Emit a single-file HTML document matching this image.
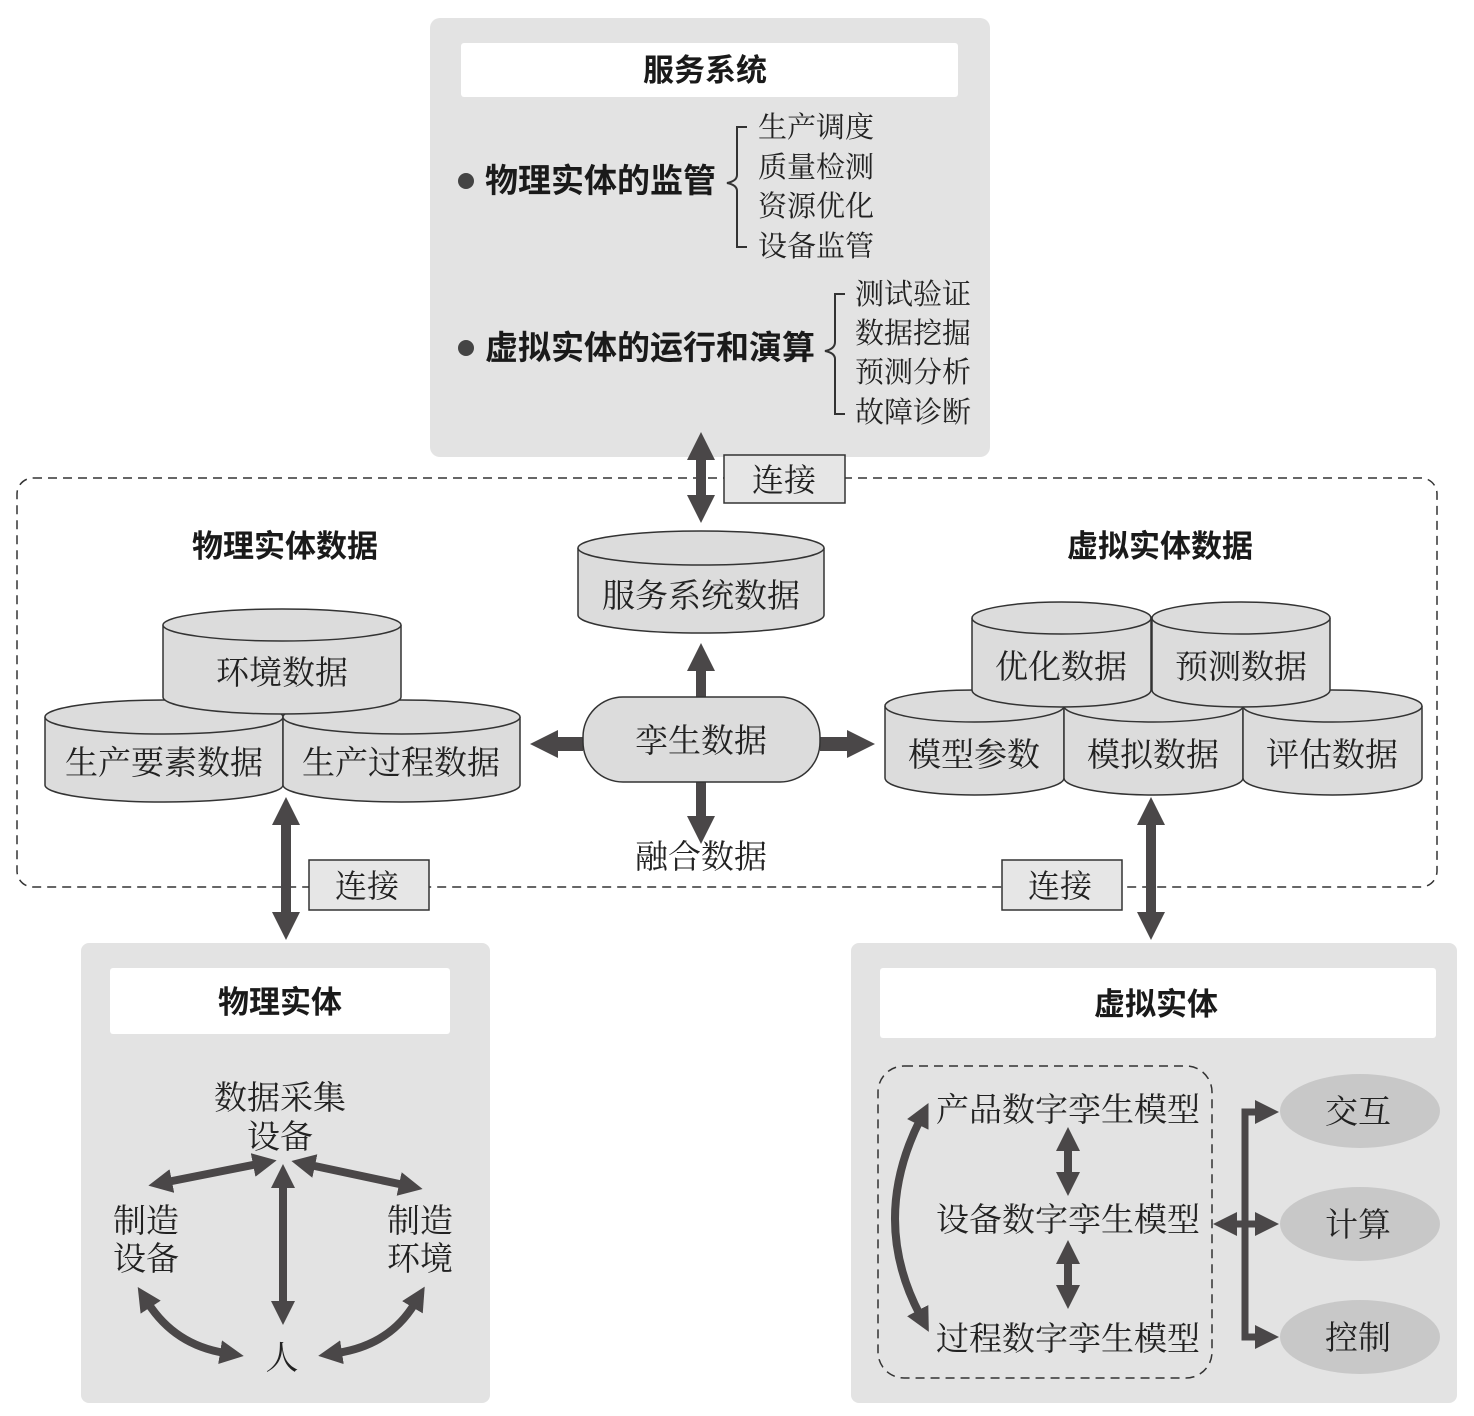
<!DOCTYPE html>
<html><head><meta charset="utf-8"><style>
html,body{margin:0;padding:0;background:#fff}
svg{display:block}
.s{font-family:"Liberation Serif","Noto Serif CJK SC",serif;fill:#222}
.b{font-family:"Liberation Sans","Noto Sans CJK SC",sans-serif;font-weight:bold;fill:#1a1a1a}
</style></head><body>
<svg width="1474" height="1416" viewBox="0 0 1474 1416" xmlns="http://www.w3.org/2000/svg">
<defs>
<marker id="ah" markerUnits="userSpaceOnUse" markerWidth="28" markerHeight="28" refX="6" refY="14" orient="auto-start-reverse">
<path d="M0,0 L28,14 L0,28 z" fill="#4a4748"/>
</marker>
<marker id="as" markerUnits="userSpaceOnUse" markerWidth="24" markerHeight="24" refX="5" refY="12" orient="auto-start-reverse">
<path d="M0,0 L24,12 L0,24 z" fill="#4a4748"/>
</marker>
</defs>

<rect x="430" y="18" width="560" height="439" rx="10" fill="#e3e3e3"/>
<rect x="461" y="43" width="497" height="54" rx="3" fill="#fff"/>
<text x="705" y="81" class="b" font-size="31" text-anchor="middle">服务系统</text>
<circle cx="466" cy="181" r="8" fill="#444"/>
<text x="485" y="192" class="b" font-size="33">物理实体的监管</text>
<path d="M747,127 H737 V175 Q737,181 727,183 Q737,185 737,191 V247 H747" fill="none" stroke="#333" stroke-width="2"/>
<g class="s" font-size="29">
<text x="758" y="137">生产调度</text>
<text x="758" y="177">质量检测</text>
<text x="758" y="216">资源优化</text>
<text x="758" y="256">设备监管</text>
</g>
<circle cx="466" cy="348" r="8" fill="#444"/>
<text x="485" y="359" class="b" font-size="33">虚拟实体的运行和演算</text>
<path d="M845,294 H835 V342 Q835,349 825,351 Q835,353 835,359 V414 H845" fill="none" stroke="#333" stroke-width="2"/>
<g class="s" font-size="29">
<text x="855" y="304">测试验证</text>
<text x="855" y="343">数据挖掘</text>
<text x="855" y="382">预测分析</text>
<text x="855" y="422">故障诊断</text>
</g>

<rect x="17" y="478" width="1420" height="409" rx="16" fill="none" stroke="#333" stroke-width="1.5" stroke-dasharray="9,6"/>
<line x1="701" y1="454" x2="701" y2="501" stroke="#4a4748" stroke-width="10" marker-start="url(#ah)" marker-end="url(#ah)"/>
<rect x="724" y="455" width="121" height="48" fill="#e6e6e6" stroke="#333" stroke-width="1.5"/>
<text x="784" y="491" class="s" font-size="32" text-anchor="middle">连接</text>

<text x="285" y="557" class="b" font-size="31" text-anchor="middle">物理实体数据</text>
<text x="1160" y="557" class="b" font-size="31" text-anchor="middle">虚拟实体数据</text>

<g fill="#dcdcdc" stroke="#333" stroke-width="1.5">
<path d="M578,548 V615 A123,18 0 0 0 824,615 V548"/>
<ellipse cx="701" cy="548" rx="123" ry="17"/>
<path d="M45,717 V785 A119,17 0 0 0 283,785 V717"/>
<ellipse cx="164" cy="717" rx="119" ry="17"/>
<path d="M283,717 V785 A118.5,17 0 0 0 520,785 V717"/>
<ellipse cx="401.5" cy="717" rx="118.5" ry="17"/>
<path d="M163,625 V697 A119,17 0 0 0 401,697 V625"/>
<ellipse cx="282" cy="625" rx="119" ry="16"/>
<path d="M885,706 V778 A89.5,17 0 0 0 1064,778 V706"/>
<ellipse cx="974.5" cy="706" rx="89.5" ry="16"/>
<path d="M1064,706 V778 A89.5,17 0 0 0 1243,778 V706"/>
<ellipse cx="1153.5" cy="706" rx="89.5" ry="16"/>
<path d="M1243,706 V778 A89.5,17 0 0 0 1422,778 V706"/>
<ellipse cx="1332.5" cy="706" rx="89.5" ry="16"/>
<path d="M972,618 V690 A89.5,17 0 0 0 1151,690 V618"/>
<ellipse cx="1061.5" cy="618" rx="89.5" ry="16"/>
<path d="M1152,618 V690 A89,17 0 0 0 1330,690 V618"/>
<ellipse cx="1241" cy="618" rx="89" ry="16"/>
</g>
<g class="s" font-size="33" text-anchor="middle">
<text x="701" y="607">服务系统数据</text>
<text x="282" y="684">环境数据</text>
<text x="164" y="774">生产要素数据</text>
<text x="401" y="774">生产过程数据</text>
<text x="1061" y="678">优化数据</text>
<text x="1241" y="678">预测数据</text>
<text x="974" y="766">模型参数</text>
<text x="1153" y="766">模拟数据</text>
<text x="1332" y="766">评估数据</text>
</g>

<line x1="701" y1="697" x2="701" y2="665" stroke="#4a4748" stroke-width="10" marker-end="url(#ah)"/>
<line x1="583" y1="744" x2="552" y2="744" stroke="#4a4748" stroke-width="14" marker-end="url(#ah)"/>
<line x1="820" y1="744" x2="853" y2="744" stroke="#4a4748" stroke-width="14" marker-end="url(#ah)"/>
<line x1="701" y1="782" x2="701" y2="822" stroke="#4a4748" stroke-width="10" marker-end="url(#ah)"/>
<rect x="583" y="697" width="237" height="85" rx="40" fill="#dcdcdc" stroke="#333" stroke-width="1.5"/>
<text x="701" y="752" class="s" font-size="33" text-anchor="middle">孪生数据</text>
<text x="701" y="868" class="s" font-size="33" text-anchor="middle">融合数据</text>

<line x1="286" y1="819" x2="286" y2="918" stroke="#4a4748" stroke-width="10" marker-start="url(#ah)" marker-end="url(#ah)"/>
<line x1="1151" y1="819" x2="1151" y2="918" stroke="#4a4748" stroke-width="10" marker-start="url(#ah)" marker-end="url(#ah)"/>
<rect x="309" y="860" width="120" height="50" fill="#e6e6e6" stroke="#333" stroke-width="1.5"/>
<text x="367" y="897" class="s" font-size="32" text-anchor="middle">连接</text>
<rect x="1002" y="860" width="120" height="50" fill="#e6e6e6" stroke="#333" stroke-width="1.5"/>
<text x="1060" y="897" class="s" font-size="32" text-anchor="middle">连接</text>

<rect x="81" y="943" width="409" height="460" rx="8" fill="#e3e3e3"/>
<rect x="110" y="968" width="340" height="66" rx="3" fill="#fff"/>
<text x="280" y="1013" class="b" font-size="31" text-anchor="middle">物理实体</text>
<g class="s" font-size="33" text-anchor="middle">
<text x="280" y="1109">数据采集</text>
<text x="280" y="1148">设备</text>
<text x="146" y="1232">制造</text>
<text x="146" y="1270">设备</text>
<text x="420" y="1232">制造</text>
<text x="420" y="1270">环境</text>
<text x="282" y="1369">人</text>
</g>
<g stroke="#4a4748" stroke-width="8" fill="none">
<line x1="167" y1="1182" x2="258" y2="1164" marker-start="url(#as)" marker-end="url(#as)"/>
<line x1="310" y1="1165" x2="404" y2="1185" marker-start="url(#as)" marker-end="url(#as)"/>
<line x1="283" y1="1183" x2="283" y2="1306" marker-start="url(#as)" marker-end="url(#as)"/>
<path d="M148,1303 Q175,1345 225,1353" marker-start="url(#as)" marker-end="url(#as)"/>
<path d="M337,1353 Q390,1345 415,1303" marker-start="url(#as)" marker-end="url(#as)"/>
</g>

<rect x="851" y="943" width="606" height="460" rx="8" fill="#e3e3e3"/>
<rect x="880" y="968" width="556" height="70" rx="3" fill="#fff"/>
<text x="1156" y="1015" class="b" font-size="31" text-anchor="middle">虚拟实体</text>
<rect x="878" y="1066" width="334" height="312" rx="26" fill="none" stroke="#333" stroke-width="1.5" stroke-dasharray="9,6"/>
<g class="s" font-size="33" text-anchor="middle">
<text x="1068" y="1121">产品数字孪生模型</text>
<text x="1068" y="1231">设备数字孪生模型</text>
<text x="1068" y="1350">过程数字孪生模型</text>
</g>
<g stroke="#4a4748" stroke-width="8" fill="none">
<line x1="1068" y1="1146" x2="1068" y2="1177" marker-start="url(#as)" marker-end="url(#as)"/>
<line x1="1068" y1="1259" x2="1068" y2="1290" marker-start="url(#as)" marker-end="url(#as)"/>
<path d="M920,1120 Q870,1220 920,1315" marker-start="url(#as)" marker-end="url(#as)"/>
<path d="M1258,1112 H1245 V1337 H1258" stroke-width="7"/>
<line x1="1245" y1="1112" x2="1260" y2="1112" stroke-width="7" marker-end="url(#as)"/>
<line x1="1245" y1="1337" x2="1260" y2="1337" stroke-width="7" marker-end="url(#as)"/>
<line x1="1232" y1="1224" x2="1260" y2="1224" stroke-width="7" marker-start="url(#as)" marker-end="url(#as)"/>
</g>
<g fill="#c8c8c8">
<ellipse cx="1360" cy="1111" rx="80" ry="37"/>
<ellipse cx="1360" cy="1224" rx="80" ry="37"/>
<ellipse cx="1360" cy="1337" rx="80" ry="37"/>
</g>
<g class="s" font-size="33" text-anchor="middle">
<text x="1358" y="1123">交互</text>
<text x="1358" y="1236">计算</text>
<text x="1358" y="1349">控制</text>
</g>
</svg>
</body></html>
